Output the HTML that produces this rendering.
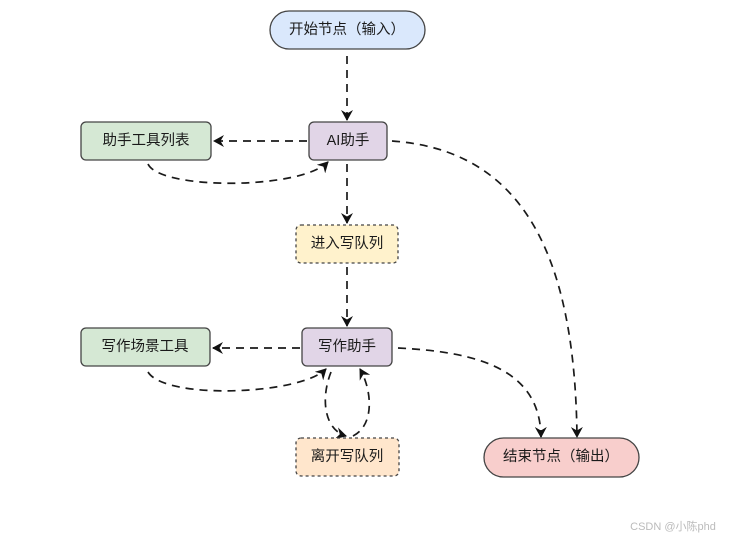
<!DOCTYPE html>
<html><head><meta charset="utf-8"><style>
html,body{margin:0;padding:0;background:#fff;}
svg{display:block}
text{font-family:"Liberation Sans","Noto Sans CJK SC",sans-serif;font-size:14.5px;fill:#1a1a1a;text-anchor:middle;dominant-baseline:central}
</style></head><body>
<svg width="733" height="540" viewBox="0 0 733 540">
<defs>
<marker id="a" markerWidth="12" markerHeight="12" refX="10" refY="6" orient="auto" markerUnits="userSpaceOnUse">
<path d="M0,0 L11,6 L0,12 L3.5,6 z" fill="#111"/></marker>
</defs>
<g fill="none" stroke="#1a1a1a" stroke-width="1.7" stroke-dasharray="8,6" marker-end="url(#a)">
<path d="M347,56 L347,120"/>
<path d="M307,141 L214,141"/>
<path d="M148,164 C160,190 300,190 328,162"/>
<path d="M347,164 L347,223"/>
<path d="M347,267 L347,326"/>
<path d="M300,348 L213,348"/>
<path d="M148,372 C165,400 300,395 326,369"/>
<path d="M331,372 C320,400 325,430 346,436"/>
<path d="M353,436 C375,425 372,390 360,369"/>
<path d="M392,141 C520,150 575,250 577,437"/>
<path d="M398,348 C480,352 540,370 541,437"/>
</g>
<g stroke="#444" stroke-width="1.3">
<rect x="270" y="11" width="155" height="38" rx="19" fill="#dae8fc"/>
<rect x="309" y="122" width="78" height="38" rx="5" fill="#e1d5e7"/>
<rect x="81" y="122" width="130" height="38" rx="5" fill="#d5e8d4"/>
<rect x="296" y="225" width="102" height="38" rx="5" fill="#fff2cc" stroke-dasharray="3,3"/>
<rect x="302" y="328" width="90" height="38" rx="5" fill="#e1d5e7"/>
<rect x="81" y="328" width="129" height="38" rx="5" fill="#d5e8d4"/>
<rect x="296" y="438" width="103" height="38" rx="5" fill="#ffe6cc" stroke-dasharray="3,3"/>
<rect x="484" y="438" width="155" height="39" rx="19.5" fill="#f8cecc"/>
</g>
<text x="347" y="30">开始节点（输入）</text>
<text x="348" y="141">AI助手</text>
<text x="146" y="141">助手工具列表</text>
<text x="347" y="244">进入写队列</text>
<text x="347" y="347">写作助手</text>
<text x="145" y="347">写作场景工具</text>
<text x="347" y="457">离开写队列</text>
<text x="561" y="457">结束节点（输出）</text>
<text x="673" y="527" style="font-size:11px;fill:#bbb">CSDN @小陈phd</text>
</svg>
</body></html>
